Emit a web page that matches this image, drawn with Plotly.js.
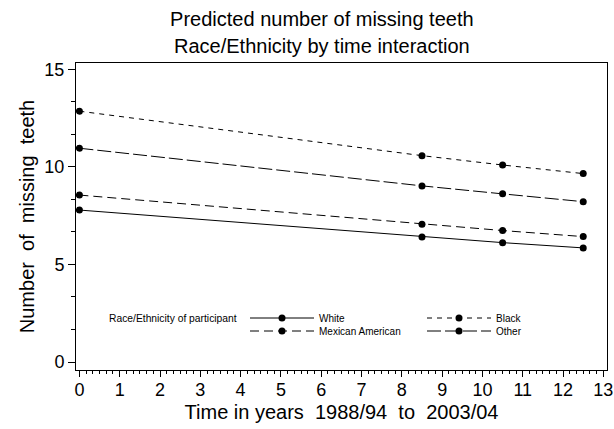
<!DOCTYPE html>
<html>
<head>
<meta charset="utf-8">
<script src="https://cdn.plot.ly/plotly-3.0.1.min.js"></script>
<style>html,body{margin:0;padding:0;background:#fff;}#chart{width:614px;height:429px;}</style>
</head>
<body>
<div id="chart"></div>
<script>
// Data
var timeYears = [0, 8.5, 10.5, 12.5];
var whiteVals = [7.79, 6.41, 6.12, 5.85];
var blackVals = [12.86, 10.58, 10.10, 9.66];
var mexicanVals = [8.56, 7.06, 6.74, 6.43];
var otherVals = [10.96, 9.03, 8.62, 8.22];
var groupNames = ['White', 'Black', 'Mexican American', 'Other'];
var titleLine1 = 'Predicted number of missing teeth';
var titleLine2 = 'Race/Ethnicity by time interaction';
var xTitle = 'Time in years  1988/94  to  2003/04';
var yTitle = 'Number  of  missing  teeth';
var legendTitle = 'Race/Ethnicity of participant';

var FONT = 'Liberation Sans, Arial, Helvetica, sans-serif';

function series(name, yv, dash, legendId) {
  return {
    type: 'scatter', mode: 'lines+markers', name: name,
    x: timeYears, y: yv,
    line: {color: '#000', width: 1, dash: dash},
    marker: {color: '#000', size: 7},
    legend: legendId
  };
}

var traces = [
  series(groupNames[0], whiteVals, 'solid', 'legend'),
  series(groupNames[1], blackVals, '5px,5px', 'legend2'),
  series(groupNames[2], mexicanVals, '9px,5px', 'legend3'),
  series(groupNames[3], otherVals, '14px,4px', 'legend4')
];

var legBase = {
  orientation: 'v', xanchor: 'left', yanchor: 'middle',
  bgcolor: 'rgba(0,0,0,0)', borderwidth: 0,
  font: {family: FONT, size: 10, color: '#000'},
  itemwidth: 64
};
function leg(x, y) { return Object.assign({}, legBase, {x: x, y: y}); }

var row1 = (370 - 318) / 307, row2 = (370 - 331) / 307;

var layout = {
  width: 614, height: 429,
  margin: {l: 76, r: 7, t: 63, b: 59, pad: 0},
  paper_bgcolor: '#fff', plot_bgcolor: '#fff',
  font: {family: FONT, color: '#000'},
  showlegend: true,
  title: {
    text: titleLine1, font: {family: FONT, size: 20, color: '#000'},
    x: 0.463, xref: 'paper', xanchor: 'center',
    y: 1 - 26 / 429, yref: 'container', yanchor: 'bottom'
  },
  annotations: [{
    text: titleLine2, showarrow: false,
    font: {family: FONT, size: 20, color: '#000'},
    xref: 'paper', x: 0.463, xanchor: 'center',
    yref: 'paper', y: 1 + (63 - 59) / 307, yanchor: 'bottom'
  }, {
    text: legendTitle, showarrow: false,
    font: {family: FONT, size: 10.3, color: '#000'},
    xref: 'paper', x: (239 - 76) / 531, xanchor: 'right',
    yref: 'paper', y: row1, yanchor: 'middle'
  }],
  xaxis: {
    range: [-0.084, 13.09], dtick: 1, tick0: 0,
    ticks: 'outside', ticklen: 6, tickwidth: 1, tickcolor: '#000',
    showline: true, linecolor: '#000', linewidth: 1, mirror: true,
    showgrid: false, zeroline: false, ticklabelstandoff: -3,
    tickfont: {family: FONT, size: 18, color: '#000'},
    minor: {dtick: 1 / 6, ticks: 'outside', ticklen: 3, tickcolor: '#000', showgrid: false},
    title: {text: xTitle, font: {family: FONT, size: 20, color: '#000'}, standoff: 6}
  },
  yaxis: {
    range: [-0.41, 15.33], dtick: 5, tick0: 0,
    ticks: 'outside', ticklen: 7, tickwidth: 1, tickcolor: '#000',
    showline: true, linecolor: '#000', linewidth: 1, mirror: true,
    showgrid: false, zeroline: false,
    tickfont: {family: FONT, size: 18, color: '#000'},
    minor: {dtick: 5 / 3, ticks: 'outside', ticklen: 4, tickcolor: '#000', showgrid: false},
    title: {text: yTitle, font: {family: FONT, size: 20, color: '#000'}, standoff: 4}
  },
  legend: leg((245 - 76) / 531, row1),
  legend2: leg((422 - 76) / 531, row1),
  legend3: leg((245 - 76) / 531, row2),
  legend4: leg((422 - 76) / 531, row2)
};

Plotly.newPlot('chart', traces, layout, {displayModeBar: false, responsive: false});
</script>
</body>
</html>
